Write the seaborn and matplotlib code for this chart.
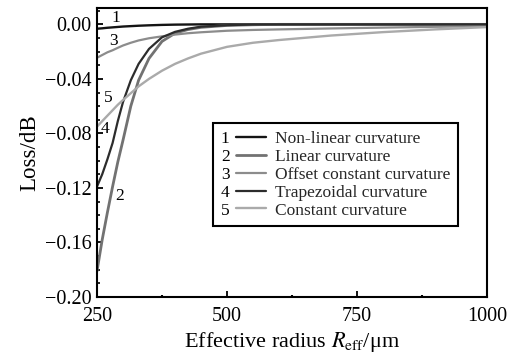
import numpy as np
import pandas as pd
import matplotlib
matplotlib.use("Agg")
import matplotlib.pyplot as plt
import seaborn as sns
from matplotlib.legend_handler import HandlerBase
from matplotlib.lines import Line2D
import matplotlib.text as mtext
from matplotlib.ticker import MultipleLocator, FuncFormatter

# ---------------- data ----------------
radius = [250, 260, 270, 280, 290, 300, 315, 330, 350, 375, 400, 425, 450,
          500, 550, 600, 700, 800, 900, 1000]

nonlinear = [-0.0032, -0.0029, -0.0025, -0.0022, -0.0019, -0.0016, -0.0013,
             -0.0010, -0.0007, -0.0004, -0.0002, -0.0001, 0.0, 0.0, 0.0, 0.0,
             0.0, 0.0, 0.0, 0.0]
linear = [-0.181, -0.158, -0.138, -0.119, -0.101, -0.085, -0.060, -0.041,
          -0.025, -0.0125, -0.0065, -0.0038, -0.0022, -0.0008, -0.0003, 0.0,
          0.0, 0.0, 0.0, 0.0]
offset_const = [-0.0245, -0.0225, -0.0205, -0.019, -0.0172, -0.0155, -0.0135,
                -0.0118, -0.0102, -0.0088, -0.0075, -0.0065, -0.0058, -0.0047,
                -0.0041, -0.0037, -0.0030, -0.0024, -0.0018, -0.0013]
trapezoidal = [-0.119, -0.110, -0.099, -0.087, -0.071, -0.057, -0.041, -0.029,
               -0.018, -0.0095, -0.0055, -0.0032, -0.0017, -0.0006, -0.0001,
               0.0, 0.0, 0.0, 0.0, 0.0]
constant = [-0.075, -0.071, -0.067, -0.063, -0.059, -0.0555, -0.0505, -0.0455,
            -0.040, -0.034, -0.029, -0.025, -0.0215, -0.0165, -0.0135,
            -0.0115, -0.0082, -0.0057, -0.0037, -0.002]

curve_numbers = ["1", "2", "3", "4", "5"]
curve_names = ["Non-linear curvature", "Linear curvature",
               "Offset constant curvature", "Trapezoidal curvature",
               "Constant curvature"]
series = [nonlinear, linear, offset_const, trapezoidal, constant]

x_ticks = [250, 500, 750, 1000]
y_ticks = [0.00, -0.04, -0.08, -0.12, -0.16, -0.20]

# styles
colors = ["#141414", "#727272", "#8c8c8c", "#2c2c2c", "#aaaaaa"]
widths = [1.7, 2.0, 1.6, 1.6, 1.7]
# in-plot number label positions (data coords)
num_pos = [(286, 0.0043), (293, -0.1258), (281, -0.012), (265, -0.0765),
           (272, -0.054)]

rows = []
for num, name, vals in zip(curve_numbers, curve_names, series):
    for r, v in zip(radius, vals):
        rows.append({"radius": r, "loss": v, "curve": name})
df = pd.DataFrame(rows)

# ---------------- style ----------------
sns.set_theme(style="ticks")
plt.rcParams["font.family"] = ["Liberation Serif", "DejaVu Serif"]
plt.rcParams["mathtext.fontset"] = "stix"

fig = plt.figure(figsize=(5.18, 3.54), dpi=100)
ax = fig.add_axes([97 / 518, 57 / 354, 390 / 518, 289 / 354])

for name, c, lw in zip(curve_names, colors, widths):
    sns.lineplot(data=df[df["curve"] == name], x="radius", y="loss",
                 color=c, linewidth=lw, ax=ax, legend=False)

ax.set_xlim(250, 1000)
ax.set_ylim(-0.20, 0.012)
ax.set_xticks(x_ticks)
ax.set_yticks(y_ticks)
ax.xaxis.set_minor_locator(MultipleLocator(125))
ax.yaxis.set_minor_locator(MultipleLocator(0.01))
ax.yaxis.set_major_formatter(
    FuncFormatter(lambda v, p: ("%.2f" % v).replace("-", "\u2212")
                  if abs(v) > 1e-9 else "0.00"))

for s in ax.spines.values():
    s.set_linewidth(1.5)
    s.set_color("black")
ax.tick_params(axis="both", which="major", direction="in", length=4.5,
               width=1.3, colors="black", labelsize=14.5)
ax.tick_params(axis="y", which="major", pad=4)
ax.tick_params(axis="x", which="major", pad=7)
ax.tick_params(axis="y", which="minor", direction="in", length=2.5, width=1.2,
               colors="black")
ax.tick_params(axis="x", which="minor", direction="in", length=1.5, width=1.5,
               colors="black")

ax.set_xlabel(r"Effective radius $R_{\mathrm{eff}}$/μm", fontsize=16,
              labelpad=3, color="black")
ax.set_ylabel("Loss/dB", fontsize=16.5, labelpad=3, color="black")

for num, (px, py) in zip(curve_numbers, num_pos):
    ax.text(px, py, num, fontsize=12.5, ha="center", va="center",
            color="black")


class NumberedHandler(HandlerBase):
    def __init__(self, num):
        super().__init__()
        self.num = num

    def create_artists(self, legend, orig_handle, xdescent, ydescent, width,
                       height, fontsize, trans):
        t = mtext.Text(-xdescent, -ydescent, self.num, fontsize=fontsize,
                       ha="left", va="baseline", color="black",
                       family=["Liberation Serif", "DejaVu Serif"])
        t.set_transform(trans)
        x0 = -xdescent + 0.85 * fontsize
        y = height / 2 - ydescent
        ln = Line2D([x0, width - xdescent], [y, y],
                    color=orig_handle.get_color(),
                    linewidth=orig_handle.get_linewidth())
        ln.set_transform(trans)
        return [t, ln]


handles = [Line2D([], [], color=c, linewidth=lw) for c, lw in zip(colors, widths)]
handler_map = {h: NumberedHandler(n) for h, n in zip(handles, curve_numbers)}
leg = ax.legend(handles, curve_names, handler_map=handler_map,
                loc="upper left", bbox_to_anchor=(116 / 390, 174 / 289),
                borderaxespad=0, frameon=True, fancybox=False, framealpha=1,
                edgecolor="black", fontsize=12.5, handlelength=2.6,
                handletextpad=0.5, labelspacing=0.1, borderpad=0.45)
leg.get_frame().set_linewidth(1.5)

fig.savefig("out.png", dpi=100)
